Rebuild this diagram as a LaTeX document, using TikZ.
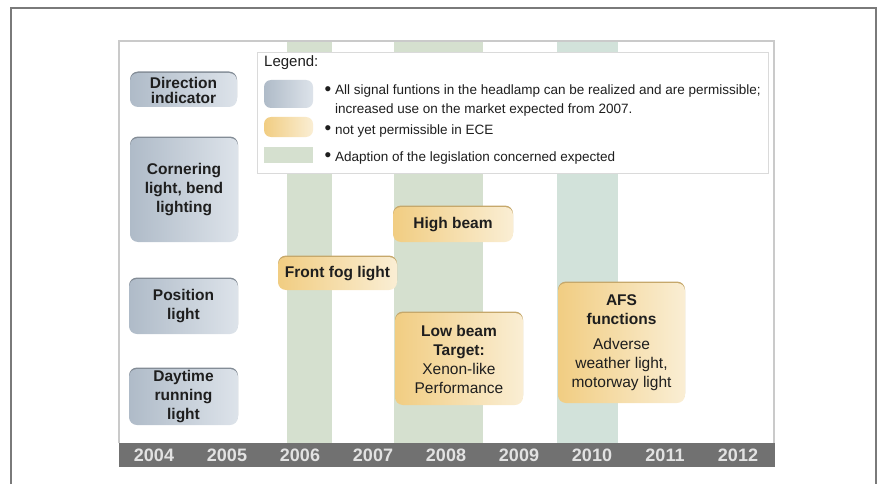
\documentclass[tikz,border=0pt]{standalone}
\usepackage{fontspec}
\setmainfont{Liberation Sans}
\definecolor{frameline}{HTML}{7A7A7A}
\definecolor{chartline}{HTML}{CACACA}
\definecolor{bandgreen}{HTML}{D5E0CF}
\definecolor{bandteal}{HTML}{D2E2DA}
\definecolor{blueL}{HTML}{AFBBC8}
\definecolor{blueR}{HTML}{DDE3EA}
\definecolor{oraL}{HTML}{F1CD82}
\definecolor{oraR}{HTML}{FAEED4}
\definecolor{yearbar}{HTML}{717171}
\definecolor{yeartxt}{HTML}{E2E2E2}
\definecolor{txt}{HTML}{1E1E1E}

\begin{document}
\begin{tikzpicture}[x=1pt, y=-1pt,
  lampbox/.style={rounded corners=8pt, inner sep=0pt, align=center, text=txt,
                  font=\bfseries\fontsize{15.5}{19}\selectfont},
  bluebox/.style={lampbox, left color=blueL, right color=blueR,
                  preaction={fill=black!25!blueL, transform canvas={yshift=1.5pt}}},
  orangebox/.style={lampbox, left color=oraL, right color=oraR,
                  preaction={fill=black!18!oraL, transform canvas={yshift=1.5pt}}},
  band/.style={fill=bandgreen, draw=none},
  yearlabel/.style={text=yeartxt, font=\bfseries\fontsize{18}{18}\selectfont},
  dot/.style={text=txt, inner sep=0pt, font=\fontsize{19}{19}\selectfont},
  legendtext/.style={anchor=west, align=left, text=txt, inner sep=0pt,
                     font=\fontsize{13.5}{19}\selectfont}]

\useasboundingbox (0,0) rectangle (877,484);

\draw[frameline, line width=1.2pt] (11,484) -- (11,8) -- (876,8) -- (876,484);

% bands of expected legislation
\fill[band] (287,41) rectangle (332,443);
\fill[band] (394,41) rectangle (483,443);
\fill[band, fill=bandteal] (557,41) rectangle (618,443);

\draw[chartline, line width=1.8pt] (119,443) -- (119,41) -- (774,41) -- (774,443);
\fill[yearbar] (119,443) rectangle (775,467);

\foreach \yr [count=\i from 0] in {2004,...,2012}
  \node[yearlabel](y\yr) at (154+73*\i,455) {\yr};

% legend
\node[draw=chartline!70, fill=white, line width=0.8pt, minimum width=511pt,
      minimum height=121pt, inner sep=0pt](legend) at (512.5,112.5) {};
\node[anchor=west, inner sep=0pt, text=txt,
      font=\fontsize{15}{15}\selectfont](legendtitle) at (264,63) {Legend:};
\node[lampbox, left color=blueL, right color=blueR, minimum width=49pt,
      minimum height=28pt, rounded corners=7pt](swblue) at (288.5,94) {};
\node[lampbox, left color=oraL, right color=oraR, minimum width=49pt,
      minimum height=20pt, rounded corners=7pt](sworange) at (288.5,127) {};
\node[fill=bandgreen, minimum width=49pt, minimum height=16pt, inner sep=0pt](swgreen) at (288.5,155) {};
\node[dot](b1) at (328,91) {\textbullet};
\node[dot](b2) at (328,130) {\textbullet};
\node[dot](b3) at (328,157) {\textbullet};
\node[legendtext, anchor=north west](l1) at (335,85) {All signal funtions in the headlamp can be realized and are permissible;\\increased use on the market expected from 2007.};
\node[legendtext](l2) at (335,131) {not yet permissible in ECE};
\node[legendtext](l3) at (335,158) {Adaption of the legislation concerned expected};

% signal functions
\node[bluebox, minimum width=107pt, minimum height=34pt,
      font=\bfseries\fontsize{15.5}{15}\selectfont](dir) at (183.5,90) {Direction\\indicator};
\node[bluebox, minimum width=108pt, minimum height=104pt](corner) at (184,190) {Cornering\\light, bend\\lighting};
\node[bluebox, minimum width=109pt, minimum height=55pt](pos) at (183.5,306.5) {Position\\light};
\node[bluebox, minimum width=109pt, minimum height=56pt](day) at (183.5,397) {Daytime\\running\\light};

\node[orangebox, minimum width=120pt, minimum height=35pt](high) at (453,224.5) {High beam};
\node[orangebox, minimum width=119pt, minimum height=33pt](fog) at (337.5,273.5) {Front fog light};
\node[orangebox, minimum width=128pt, minimum height=92pt](low) at (459,359)
  {Low beam\\Target:\\\mdseries Xenon-like\\\mdseries Performance};
\node[orangebox, minimum width=127pt, minimum height=120pt](afs) at (621.5,343)
  {AFS\\functions\\[6pt]\mdseries Adverse\\\mdseries weather light,\\\mdseries motorway light};

\end{tikzpicture}
\end{document}
